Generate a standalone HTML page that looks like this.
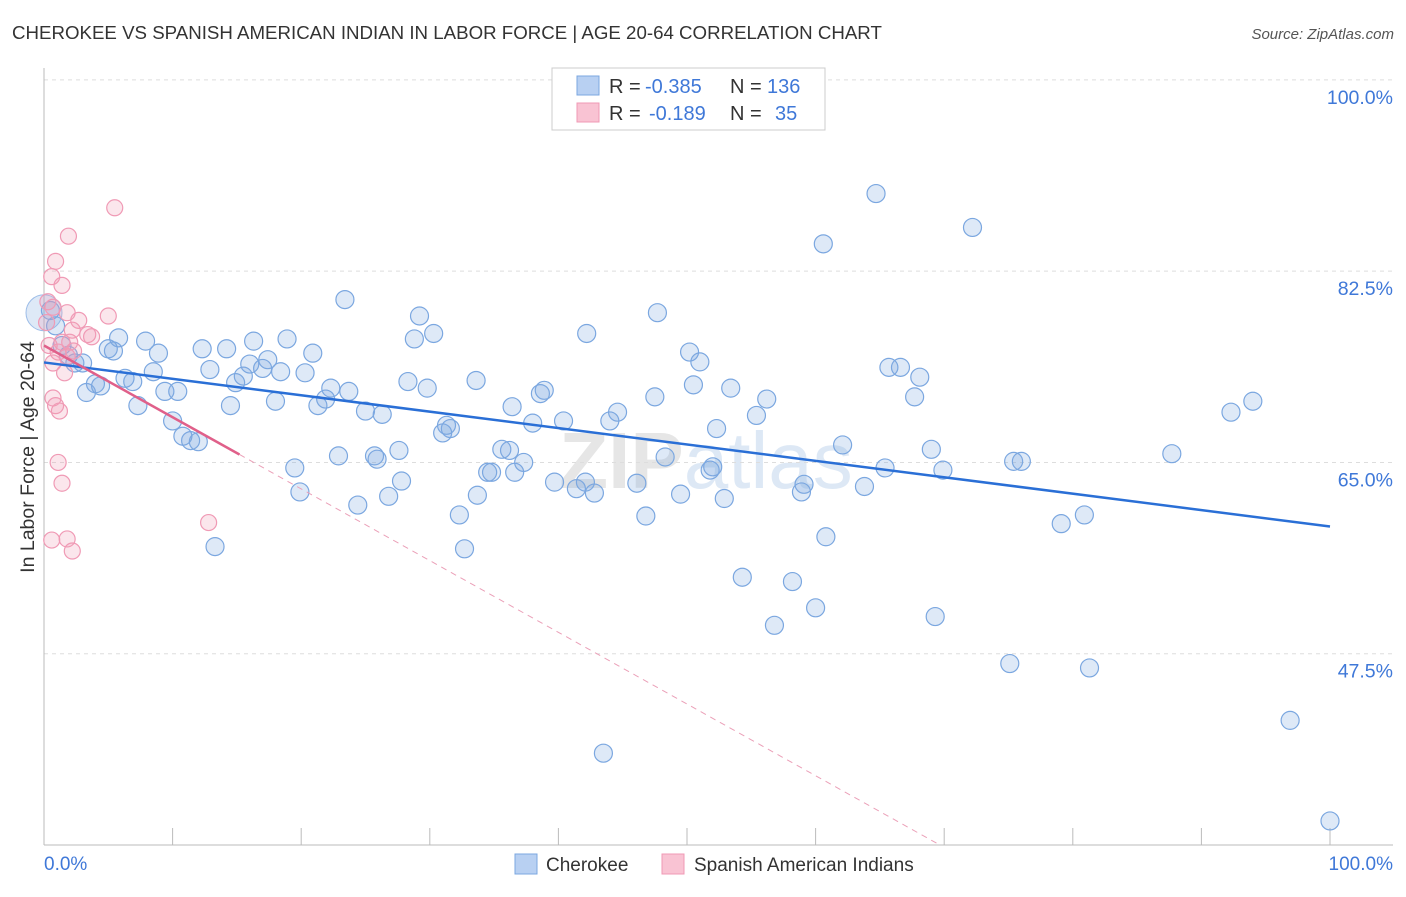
<!DOCTYPE html>
<html><head><meta charset="utf-8"><style>
body{margin:0;background:#fff;font-family:"Liberation Sans",sans-serif}
svg text{font-family:"Liberation Sans",sans-serif}
</style></head><body>
<svg id="chart" width="1406" height="892" viewBox="0 0 1406 892" xmlns="http://www.w3.org/2000/svg">
<text x="12" y="39" font-size="18.7" fill="#333">CHEROKEE VS SPANISH AMERICAN INDIAN IN LABOR FORCE | AGE 20-64 CORRELATION CHART</text>
<text x="1394" y="39" font-size="15" fill="#555" text-anchor="end" font-style="italic">Source: ZipAtlas.com</text>
<text x="706" y="488" font-size="80" fill="#e6e6e6" text-anchor="middle" font-weight="bold">ZIP<tspan fill="#dde8f5" font-weight="normal">atlas</tspan></text>
<g id="grid"></g>
<g id="axes"></g>
<g id="points"></g>
<g id="lines"></g>
<text transform="translate(34,457) rotate(-90)" font-size="19.5" fill="#333" text-anchor="middle">In Labor Force | Age 20-64</text>
<g>
<rect x="552" y="68" width="273" height="62" fill="#fff" stroke="#ccc"/>
<rect x="577" y="76" width="22" height="19" fill="#b8d0f2" stroke="#7ba7e0"/>
<rect x="577" y="103" width="22" height="19" fill="#f9c3d3" stroke="#f09ab5"/>
<text x="609" y="93" font-size="20" fill="#333">R =</text>
<text x="645" y="93" font-size="20" fill="#3f78d8">-0.385</text>
<text x="730" y="93" font-size="20" fill="#333">N =</text>
<text x="767" y="93" font-size="20" fill="#3f78d8">136</text>
<text x="609" y="120" font-size="20" fill="#333">R =</text>
<text x="649" y="120" font-size="20" fill="#3f78d8">-0.189</text>
<text x="730" y="120" font-size="20" fill="#333">N =</text>
<text x="775" y="120" font-size="20" fill="#3f78d8">35</text>
</g>
<g>
<rect x="515" y="854" width="22" height="20" fill="#b8d0f2" stroke="#7ba7e0"/>
<text x="546" y="871" font-size="19" fill="#333">Cherokee</text>
<rect x="662" y="854" width="22" height="20" fill="#f9c3d3" stroke="#f09ab5"/>
<text x="694" y="871" font-size="19" fill="#333">Spanish American Indians</text>
</g>
</svg>
<script>
const yTicks=[47.5,65.0,82.5,100.0];
const yTickLabels=["47.5%","65.0%","82.5%","100.0%"];
const xTicks=[0,10,20,30,40,50,60,70,80,90,100];
const cherokeeX=[44.8,53.7,64.7,72.2,60.6,23.4,47.7,29.2,42.2,30.3,28.8,0.5,0.9,5.8,7.9,5.0,5.4,8.9,12.3,14.2,16.3,18.9,20.9,1.4,1.9,2.4,3.0,4.0,3.3,4.4,6.3,6.9,8.5,7.3,9.4,10.4,10.0,10.8,11.4,12.0,12.9,14.5,14.9,15.5,16.0,17.0,17.4,18.4,18.0,20.3,21.3,21.9,22.3,23.7,25.0,26.3,28.3,29.8,33.6,36.4,38.0,38.6,38.9,40.4,44.0,44.6,47.5,50.5,51.0,50.2,53.4,56.2,55.4,52.3,65.7,66.6,68.1,67.7,62.1,48.3,31.0,31.6,31.3,19.5,19.9,22.9,25.7,25.9,27.6,27.8,26.8,24.4,32.3,32.7,33.7,34.5,34.8,35.6,36.2,36.6,37.3,39.7,41.4,42.1,42.8,46.1,46.8,49.5,52.0,51.8,52.9,58.9,59.1,63.8,65.4,69.0,69.9,75.4,76.0,79.1,80.9,87.7,92.3,94.0,60.8,54.3,58.2,56.8,60.0,69.3,75.1,81.3,96.9,43.5,100,13.3];
const cherokeeY=[100,100,89.6,86.5,85.0,79.9,78.7,78.4,76.8,76.8,76.3,78.9,77.5,76.4,76.1,75.4,75.2,75.0,75.4,75.4,76.1,76.3,75.0,75.7,74.8,74.1,74.1,72.2,71.4,72.0,72.7,72.4,73.3,70.2,71.5,71.5,68.8,67.4,67.0,66.9,73.5,70.2,72.3,72.9,74.0,73.6,74.4,73.3,70.6,73.2,70.2,70.8,71.8,71.5,69.7,69.4,72.4,71.8,72.5,70.1,68.6,71.3,71.6,68.8,68.8,69.6,71.0,72.1,74.2,75.1,71.8,70.8,69.3,68.1,73.7,73.7,72.8,71.0,66.6,65.5,67.7,68.1,68.4,64.5,62.3,65.6,65.6,65.3,66.1,63.3,61.9,61.1,60.2,57.1,62.0,64.1,64.1,66.2,66.1,64.1,65.0,63.2,62.6,63.2,62.2,63.1,60.1,62.1,64.6,64.3,61.7,62.3,63.0,62.8,64.5,66.2,64.3,65.1,65.1,59.4,60.2,65.8,69.6,70.6,58.2,54.5,54.1,50.1,51.7,50.9,46.6,46.2,41.4,38.4,32.2,57.3];
const spanishX=[5.5,1.9,0.9,0.6,1.4,0.3,0.7,1.8,5.0,0.2,2.2,3.4,3.7,1.4,2.0,2.3,1.1,1.8,0.7,0.7,0.9,1.2,1.1,1.4,12.8,1.8,0.6,2.2,2.7,0.4,1.6];
const spanishY=[88.3,85.7,83.4,82.0,81.2,79.7,79.2,78.7,78.4,77.8,77.1,76.7,76.5,76.0,76.0,75.2,75.1,74.7,74.1,70.9,70.2,69.7,65.0,63.1,59.5,58.0,57.9,56.9,78.0,75.7,73.2];
const cherokeeFit=[74.15,59.14];
const spanishFit=[75.7,-0.656];
const NS="http://www.w3.org/2000/svg";
const X=v=>44+v*12.86;
const Y=v=>845-(v-30)*10.93;
function mk(tag,attrs,parent){const e=document.createElementNS(NS,tag);for(const k in attrs)e.setAttribute(k,attrs[k]);parent.appendChild(e);return e;}
const grid=document.getElementById('grid'),axes=document.getElementById('axes'),pts=document.getElementById('points'),lines=document.getElementById('lines');
yTicks.forEach((t,i)=>{
 const l=mk('line',{x1:44,x2:1393,y1:Y(t),y2:Y(t),stroke:'#ddd','stroke-dasharray':'4,4'},grid);
 
 
 const tx=mk('text',{x:1393,y:Y(t)+24,'font-size':19.5,fill:'#3f78d8','text-anchor':'end'},axes);
 tx.textContent=yTickLabels[i];
 
 
});
const ax=mk('line',{x1:44,x2:44,y1:68,y2:845,stroke:'#bbb'},axes);


const bx=mk('line',{x1:44,x2:1393,y1:845,y2:845,stroke:'#bbb'},axes);


xTicks.forEach(t=>{
 const l=mk('line',{x1:X(t),x2:X(t),y1:828,y2:845,stroke:'#bbb'},axes);
 
 
});
const xl0=mk('text',{x:44,y:870,'font-size':19,fill:'#3f78d8'},axes);xl0.textContent='0.0%';


const xl1=mk('text',{x:1393,y:870,'font-size':19,fill:'#3f78d8','text-anchor':'end'},axes);xl1.textContent='100.0%';


const big=mk('circle',{cx:X(0),cy:Y(78.7),r:18,fill:'rgba(123,167,224,0.25)',stroke:'#9dbde8'},pts);


cherokeeX.forEach((v,i)=>{
 const c=mk('circle',{cx:X(v),cy:Y(cherokeeY[i]),r:9,fill:'rgba(123,167,224,0.25)',stroke:'#7ba7e0','stroke-width':1.2},pts);
 
 
});
spanishX.forEach((v,i)=>{
 const c=mk('circle',{cx:X(v),cy:Y(spanishY[i]),r:8,fill:'rgba(240,154,181,0.25)',stroke:'#f09ab5','stroke-width':1.2},pts);
 
 
});
const cl=mk('line',{x1:X(0),y1:Y(cherokeeFit[0]),x2:X(100),y2:Y(cherokeeFit[1]),stroke:'#2a6fd6','stroke-width':2.5},lines);


const sv=x=>spanishFit[0]+spanishFit[1]*x;
const xEnd=(30-spanishFit[0])/spanishFit[1];
const sd=mk('line',{x1:X(15.2),y1:Y(sv(15.2)),x2:X(xEnd),y2:Y(30),stroke:'#eba0b8','stroke-width':1,'stroke-dasharray':'6,5'},lines);


const sl=mk('line',{x1:X(0),y1:Y(sv(0)),x2:X(15.2),y2:Y(sv(15.2)),stroke:'#e0608a','stroke-width':2.5},lines);


</script>
</body></html>
